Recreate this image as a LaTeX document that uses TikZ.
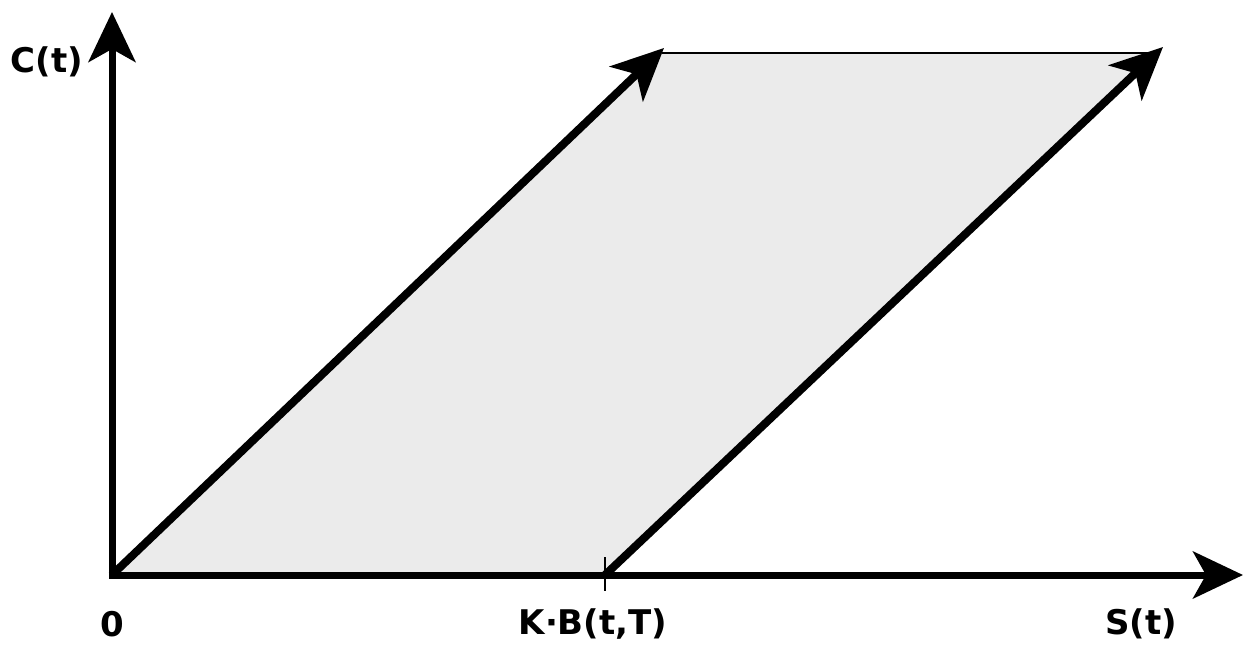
\documentclass[tikz,border=0pt]{standalone}
\usepackage{fontspec}
\setmainfont{DejaVu Sans}
\usetikzlibrary{arrows.meta}
\begin{document}
\begin{tikzpicture}[x=1pt,y=-1pt,
  axis/.style={line width=7pt,-{Stealth[length=50pt,width=47pt,inset=13pt]}},
  diag/.style={line width=8pt,-{Stealth[length=52pt,width=48pt,inset=14pt]}},
  lbl/.style={font=\fontsize{34}{37}\selectfont\bfseries,inner sep=0pt}]
\useasboundingbox (0,0) rectangle (1243,647);
\coordinate (O) at (112,575);
\coordinate (K) at (605,575);
\coordinate (A) at (664,48);
\coordinate (B) at (1163,47);
\coordinate (At) at (662,53);
\coordinate (Bt) at (1158,53);
\coordinate (Y) at (112,12);
\coordinate (X) at (1243,575);
\coordinate (Kt) at (605,557);
\coordinate (Kb) at (605,591);
\fill[fill={rgb,255:red,235;green,235;blue,235}] (O) -- (At) -- (Bt) -- (K) -- cycle;
\draw[line width=1.5pt] (At) -- (Bt);
\draw[line width=1.3pt] (Kt) -- (Kb);
\draw[axis] (O) -- (Y);
\draw[axis] ([xshift=-3.5pt]O) -- (X);
\draw[diag] (O) -- (A);
\draw[diag] (K) -- (B);
\node[lbl] (c) at (47,62) {C(t)};
\node[lbl] (z) at (112,624) {0};
\node[lbl] (kb) at (593,624) {K·B(t,T)};
\node[lbl] (s) at (1141,624) {S(t)};
\end{tikzpicture}
\end{document}
